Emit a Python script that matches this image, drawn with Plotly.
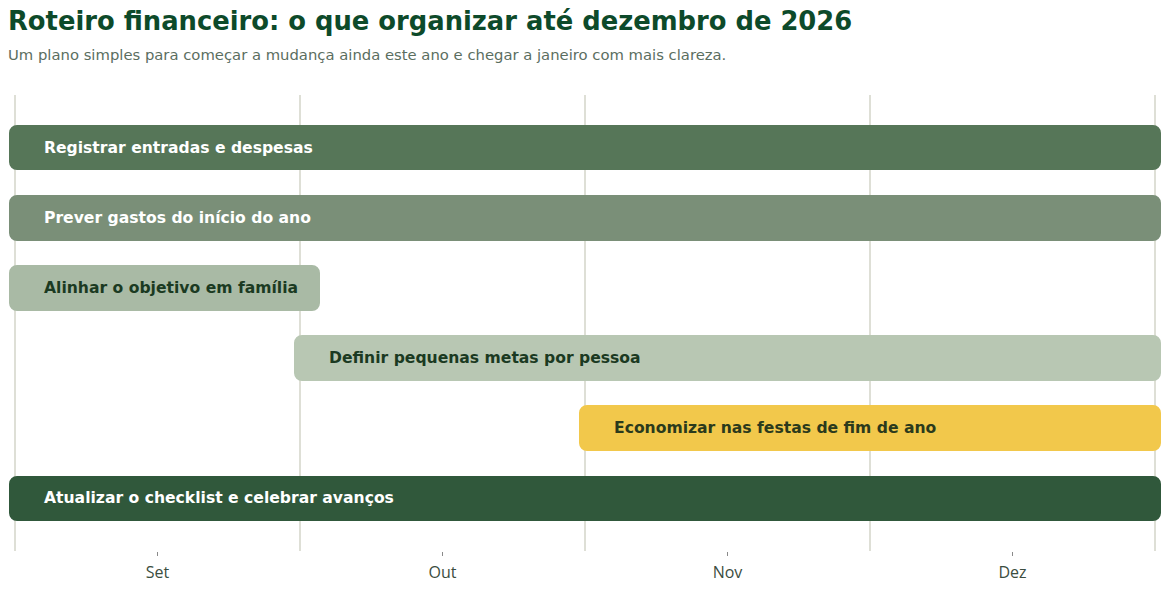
import plotly.graph_objects as go

# ---- data ----
tasks = [
    "Registrar entradas e despesas",
    "Prever gastos do início do ano",
    "Alinhar o objetivo em família",
    "Definir pequenas metas por pessoa",
    "Economizar nas festas de fim de ano",
    "Atualizar o checklist e celebrar avanços",
]
start_month = [0, 0, 0, 1, 2, 0]          # months from 1 Sep
end_month = [4, 4, 1.05, 4, 4, 4]
bar_colors = ["#567658", "#7a8f78", "#a9baa5", "#b8c7b3", "#f2c84b", "#30583b"]
text_colors = ["#ffffff", "#ffffff", "#1b3a22", "#1b3a22", "#2b3a1c", "#ffffff"]

month_ticks = [0.5, 1.5, 2.5, 3.5]
month_labels = ["Set", "Out", "Nov", "Dez"]
month_bounds = [0, 1, 2, 3, 4]

title = "Roteiro financeiro: o que organizar até dezembro de 2026"
subtitle = "Um plano simples para começar a mudança ainda este ano e chegar a janeiro com mais clareza."

# ---- style ----
W, H = 1170, 592
ML, MR, MT, MB = 9, 9, 95, 39
PAD_PX = 6
px_per_month = (W - ML - MR - 2 * PAD_PX) / 4
pad = PAD_PX / px_per_month

fig = go.Figure()
for i, t in enumerate(tasks):
    fig.add_trace(go.Bar(
        y=[t],
        x=[end_month[i] - start_month[i]],
        base=[start_month[i]],
        orientation="h",
        width=0.48,
        marker=dict(color=bar_colors[i], line=dict(color=bar_colors[i], width=12),
                    cornerradius=2),
        hoverinfo="skip",
        showlegend=False,
    ))
    fig.add_annotation(
        x=start_month[i], y=t, xref="x", yref="y",
        text=f"<b>{t}</b>", showarrow=False, xanchor="left", yanchor="middle",
        xshift=27,
        font=dict(family="DejaVu Sans", size=15.6, color=text_colors[i]),
    )

fig.add_annotation(
    x=0, y=1, xref="paper", yref="paper", xshift=-3, yshift=74,
    xanchor="left", yanchor="middle",
    text=f"<b>{title}</b>", showarrow=False,
    font=dict(family="DejaVu Sans", size=25.8, color="#0d4a2a"),
)
fig.add_annotation(
    x=0, y=1, xref="paper", yref="paper", xshift=-3, yshift=41,
    xanchor="left", yanchor="middle",
    text=subtitle, showarrow=False,
    font=dict(family="DejaVu Sans", size=14.8, color="#5b6e5f"),
)

fig.update_layout(
    width=W, height=H,
    margin=dict(l=ML, r=MR, t=MT, b=MB, pad=0),
    plot_bgcolor="white", paper_bgcolor="white",
    barmode="overlay",
    bargap=0,
    xaxis=dict(
        range=[-pad, 4 + pad],
        tickvals=month_ticks, ticktext=month_labels,
        showgrid=False, zeroline=False, showline=False,
        ticks="outside", ticklen=4, tickwidth=1, tickcolor="#8a8a8a",
        ticklabelstandoff=3,
        tickfont=dict(family="Open Sans", size=16, color="#3b4d40"),
        minor=dict(tickvals=month_bounds, showgrid=True, gridcolor="#dedfd6",
                   gridwidth=1.5, ticks=""),
    ),
    yaxis=dict(
        categoryorder="array", categoryarray=tasks,
        range=[5.75, -0.75],
        showticklabels=False, showgrid=False, zeroline=False, showline=False,
    ),
)

fig.write_html("out.html", config={"displayModeBar": False},
               post_script="document.body.style.margin='0';")
